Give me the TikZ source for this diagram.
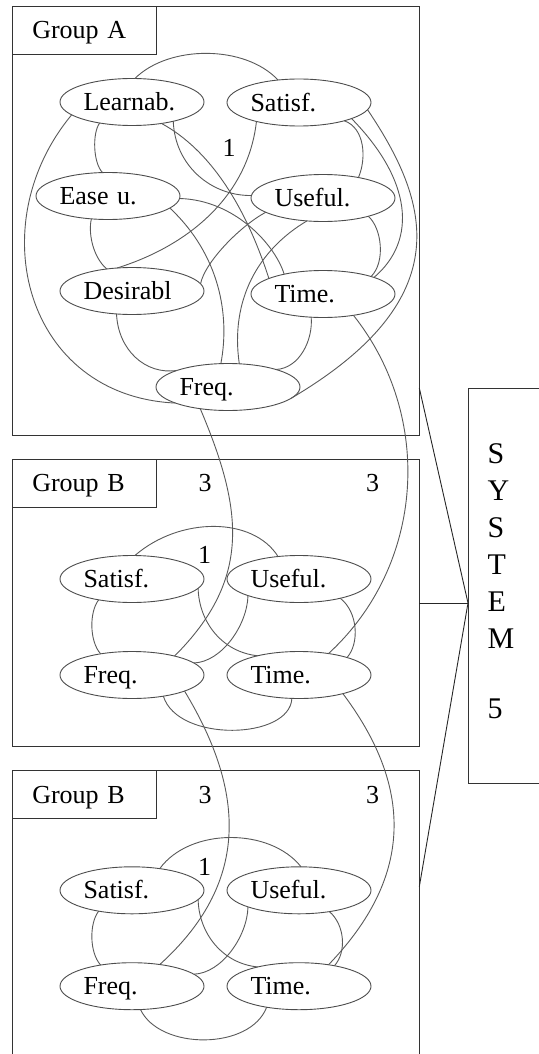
\documentclass[tikz,border=0pt]{standalone}
\usepackage{fontspec}
\setmainfont{Liberation Serif}
\usetikzlibrary{shapes.geometric}
\newcommand\lblfont{\fontsize{26}{30}\selectfont}
\tikzset{
  ell/.style={ellipse, draw=black!70, line width=0.9pt, minimum width=144pt, minimum height=47pt,
    inner sep=0pt, outer sep=0pt, text width=97pt, align=left, text height=17.2pt, text depth=0pt, font=\lblfont},
  edge/.style={draw=black!65, line width=0.9pt},
  grp/.style={draw=black!80, line width=0.9pt, anchor=north west, inner sep=0pt, outer sep=0pt},
  lab/.style={draw=black!80, line width=0.9pt, anchor=north west, minimum height=48pt, text width=104pt,
    inner xsep=20pt, outer sep=0pt, align=left, text height=17.2pt, text depth=0pt, font=\lblfont},
  num/.style={inner sep=0pt, font=\lblfont},
  conn/.style={draw=black!85, line width=0.9pt}
}
\begin{document}
\begin{tikzpicture}[x=1pt,y=-1pt]
\useasboundingbox (0,0) rectangle (538,1054);
% group boxes
\node[grp, minimum width=407pt, minimum height=429pt] (gA) at (12.3,6) {};
\node[lab] (gAl) at (12.3,6) {Group A};
\node[grp, minimum width=407pt, minimum height=287.4pt] (gB) at (12.3,459.3) {};
\node[lab] (gBl) at (12.3,459.3) {Group B};
\node[grp, minimum width=407pt, minimum height=320pt] (gC) at (12.3,770.7) {};
\node[lab] (gCl) at (12.3,770.7) {Group B};
\node[grp, minimum width=100pt, minimum height=395pt] (sys) at (468,388) {};
\node[anchor=north west, inner sep=0pt, align=left, font=\fontsize{30}{37}\selectfont] (systxt) at (487.5,443) {S\\Y\\S\\T\\E\\M\\[33pt]5};
\coordinate (sysin) at ([yshift=-17.5pt]sys.west);
\draw[conn] ([yshift=47pt]gA.south east) -- (sysin);
\draw[conn] (gB.east) -- (sysin);
\draw[conn] ([yshift=-116pt]gC.north east) -- (sysin);
% numbers
\node[num] (nA1) at (229,148) {1};
\node[num] (nB3a) at (205,483.3) {3};
\node[num] (nB3b) at (372.5,483.3) {3};
\node[num] (nB1) at (204.7,555) {1};
\node[num] (nC3a) at (205,795) {3};
\node[num] (nC3b) at (372.5,795) {3};
\node[num] (nC1) at (204.7,866.7) {1};
% group A ellipses
\node[ell] (L) at (132,102) {Learnab.};
\node[ell] (S) at (299,102.5) {Satisf.};
\node[ell] (E) at (108,196) {Ease u.};
\node[ell] (U) at (323,198) {Useful.};
\node[ell] (D) at (132,291) {Desirabl};
\node[ell] (T) at (323,294) {Time.};
\node[ell] (F) at (228,387) {Freq.};
% group B ellipses
\node[ell] (BS) at (132,579) {Satisf.};
\node[ell] (BU) at (299,579) {Useful.};
\node[ell] (BF) at (132,675) {Freq.};
\node[ell] (BT) at (299,675) {Time.};
% group B (second) ellipses
\node[ell] (CS) at (132,890.3) {Satisf.};
\node[ell] (CU) at (299,890.3) {Useful.};
\node[ell] (CF) at (132,986.2) {Freq.};
\node[ell] (CT) at (299,986.2) {Time.};
% group A connectors
\draw[edge] (L.83) .. controls +(34,-33.8) and +(-33,-35.3) .. (S.133);
\draw[edge] (L.192) .. controls +(-91.5,110) and +(-150,-7) .. (F.197);
\draw[edge] (S.354) .. controls +(61.4,91.3) and +(169.5,-100.2) .. (F.350);
\draw[edge] (L.213) .. controls +(-7.5,10) and +(-9.5,-9.4) .. (E.103);
\draw[edge] (L.335) .. controls +(1.5,43.6) and +(-41,0.5) .. (U.178);
\draw[edge] (L.324) .. controls +(48.3,26.4) and +(-23.7,-73.4) .. (T.164);
\draw[edge] (S.204) .. controls +(-8.2,73.4) and +(73,-22.8) .. (D.123);
\draw[edge] (S.338) .. controls +(20.5,7.1) and +(8.3,-19.4) .. (U.30);
\draw[edge] (S.343) .. controls +(60.2,61.4) and +(43.7,-37.3) .. (T.18);
\draw[edge] (E.234) .. controls +(-3.2,12.9) and +(-14.5,-12.8) .. (D.139);
\draw[edge] (E.349) .. controls +(50,47) and +(9.2,-48.4) .. (F.107);
\draw[edge] (E.358) .. controls +(55.4,1.5) and +(-8.9,-29.1) .. (T.153);
\draw[edge] (U.194) .. controls +(-25.6,13.7) and +(4.4,-21.8) .. (D.6);
\draw[edge] (U.235) .. controls +(-48.8,28.9) and +(-9.4,-63.6) .. (F.64);
\draw[edge] (U.338) .. controls +(13.5,11.6) and +(14.7,-14.4) .. (T.20);
\draw[edge] (D.236) .. controls +(1.6,35.9) and +(-31.7,4.7) .. (F.162);
\draw[edge] (T.243) .. controls +(1.9,22.6) and +(23.7,-1.4) .. (F.20);
\draw[edge] (T.325) .. controls +(80.6,101.4) and +(96.2,-88.4) .. (BT.36);
\draw[edge] (F.218) .. controls +(42.9,101.2) and +(77,-77) .. (BF.24);
% group B connectors
\draw[edge] (BS.83) .. controls +(45,-39) and +(-25,-40) .. (BU.133);
\draw[edge] (BS.212) .. controls +(-9.4,12) and +(-11.4,-12.7) .. (BF.146);
\draw[edge] (BS.352) .. controls +(0.8,33.7) and +(-35.5,-3.6) .. (BT.155);
\draw[edge] (BU.198) .. controls +(-0.7,29.3) and +(28,-1) .. (BF.11);
\draw[edge] (BU.335) .. controls +(17.5,13.6) and +(12.7,-14.4) .. (BT.20);
\draw[edge] (BF.326) .. controls +(14.4,46.7) and +(-1.8,41.4) .. (BT.253);
\draw[edge] (BF.343) .. controls +(62.4,103.2) and +(88.8,-80.4) .. (CF.38);
\draw[edge] (BT.337) .. controls +(78,104) and +(76.2,-79.2) .. (CT.36);
% second group B connectors
\draw[edge] (CS.38) .. controls +(30,-41.2) and +(-31.1,-39.4) .. (CU.85);
\draw[edge] (CS.212) .. controls +(-9.4,12) and +(-11.4,-12.7) .. (CF.146);
\draw[edge] (CS.352) .. controls +(0.8,33.7) and +(-35.5,-3.6) .. (CT.155);
\draw[edge] (CU.198) .. controls +(-0.7,29.3) and +(28,-1) .. (CF.11);
\draw[edge] (CU.325) .. controls +(15.4,13.25) and +(12.3,-13.6) .. (CT.30);
\draw[edge] (CF.290) .. controls +(19.4,40.8) and +(-16.5,43.2) .. (CT.213);
\end{tikzpicture}
\end{document}
